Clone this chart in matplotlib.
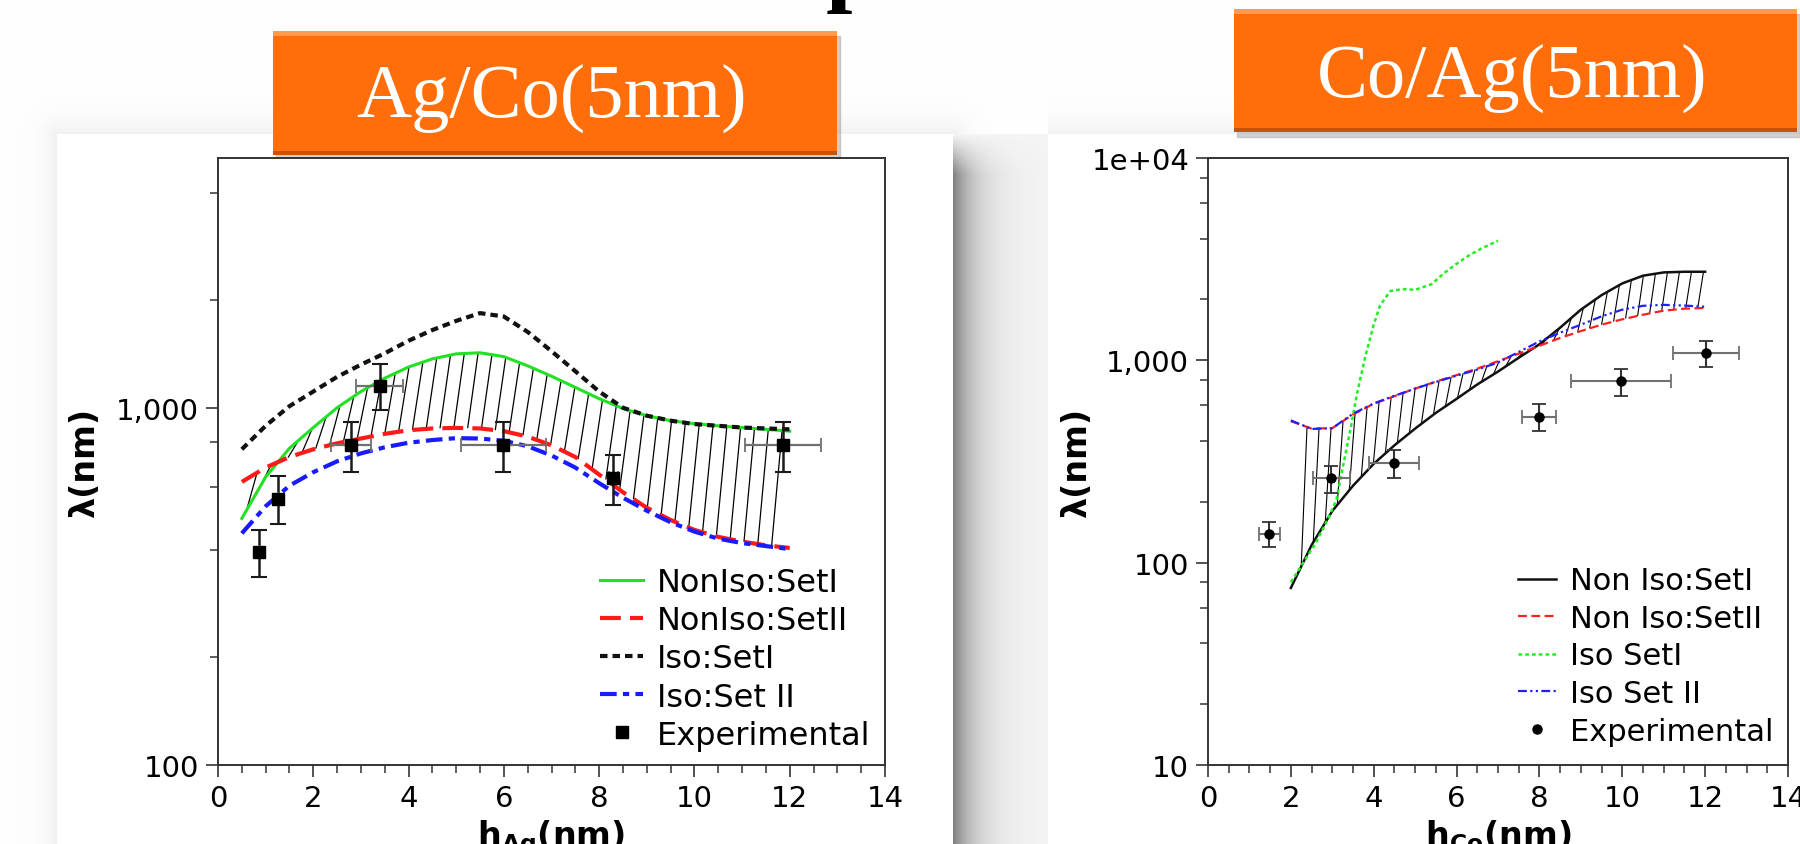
import numpy as np
import matplotlib
matplotlib.use("Agg")
import matplotlib.pyplot as plt
from matplotlib.patches import Rectangle
from matplotlib.collections import LineCollection
from matplotlib.ticker import NullFormatter, FixedLocator, MultipleLocator

plt.rcParams['font.family'] = ['DejaVu Sans']

# ---------- Ag/Co(5nm) panel ----------
h_ag = [0.5, 1.0, 1.5, 2.0, 2.5, 3.0, 3.5, 4.0, 4.5, 5.0, 5.5, 6.0,
        6.5, 7.0, 7.5, 8.0, 8.5, 9.0, 9.5, 10.0, 10.5, 11.0, 11.5, 12.0]
ag_noniso_set1 = [490, 640, 770, 880, 1000, 1110, 1210, 1300, 1370, 1415, 1425, 1390,
                  1310, 1225, 1140, 1060, 995, 950, 920, 902, 890, 880, 870, 860]
ag_noniso_set2 = [620, 680, 728, 765, 795, 820, 845, 865, 875, 878, 875, 860,
                  830, 785, 728, 650, 580, 525, 485, 455, 435, 422, 412, 405]
ag_iso_set1 = [765, 890, 1010, 1110, 1220, 1320, 1420, 1540, 1650, 1750, 1840, 1800,
               1630, 1440, 1265, 1110, 1000, 950, 920, 900, 890, 880, 875, 870]
ag_iso_set2 = [445, 530, 605, 660, 708, 745, 775, 798, 812, 822, 820, 808,
               780, 735, 680, 615, 560, 515, 478, 450, 430, 418, 410, 402]

ag_exp_x = [0.86, 1.26, 2.80, 3.39, 5.99, 8.30, 11.86]
ag_exp_y = [395, 557, 787, 1153, 787, 635, 787]
ag_exp_yerr = [60, 85, 125, 170, 125, 100, 125]
ag_exp_xerr = [0, 0, 0.42, 0.5, 0.9, 0.1, 0.8]

# ---------- Co/Ag(5nm) panel ----------
h_co = [2.0, 2.5, 3.0, 3.5, 4.0, 4.5, 5.0, 5.5, 6.0, 6.5, 7.0,
        7.5, 8.0, 8.5, 9.0, 9.5, 10.0, 10.5, 11.0, 11.5, 12.0]
co_noniso_set1 = [75, 122, 180, 240, 308, 380, 460, 550, 645, 760, 880,
                  1030, 1200, 1450, 1780, 2100, 2400, 2620, 2720, 2740, 2740]
co_noniso_set2 = [500, 460, 462, 540, 610, 665, 725, 785, 845, 910, 990,
                  1080, 1180, 1290, 1395, 1500, 1595, 1680, 1760, 1800, 1815]
co_iso_set2 = [505, 458, 462, 545, 612, 668, 725, 782, 840, 900, 975,
               1100, 1240, 1370, 1500, 1650, 1780, 1860, 1880, 1865, 1840]
h_co_iso1 = [2.0, 2.3, 2.6, 2.9, 3.1, 3.3, 3.45, 3.6, 3.8, 4.0, 4.15, 4.4,
             4.7, 5.0, 5.4, 5.7, 6.0, 6.3, 6.6, 7.0]
co_iso_set1 = [80, 100, 125, 165, 205, 330, 470, 690, 1050, 1500, 1860, 2200,
               2250, 2230, 2380, 2700, 3000, 3300, 3570, 3900]

co_exp_x = [1.48, 2.98, 4.49, 7.99, 9.97, 12.02]
co_exp_y = [139, 262, 311, 526, 787, 1084]
co_exp_yerr = [20, 40, 50, 80, 120, 160]
co_exp_xerr = [0.25, 0.45, 0.6, 0.4, 1.2, 0.8]

W, H = 1800, 845
fig = plt.figure(figsize=(W / 100, H / 100), dpi=100)

# slide background with panel shadows
bg = fig.add_axes([0, 0, 1, 1])
yy, xx = np.mgrid[0:H, 0:W]
ddx = np.maximum(np.maximum(57 - xx, xx - 953), 0)
ddy = np.maximum(135 - yy, 0)
d = np.hypot(ddx, ddy)
shade = np.where(d > 0, 0.06 * np.exp(-d / 14), 0.0)
side = (xx >= 953) & (xx < 1048) & (yy >= 135)
shade = np.where(side, 0.46 * np.exp(-(xx - 953) / 22.0) * np.clip((yy - 135) / 40.0, 0, 1) + 0.04, shade)
right_panel = (xx >= 1048) & (yy >= 135)
shade = np.where(right_panel, 0.0, shade)
top_glow = (xx >= 1048) & (yy < 135)
shade = np.where(top_glow, 0.05 * np.exp(-(135 - yy) / 14.0), shade)
gray = 1 - shade
bg.imshow(np.dstack([gray, gray, gray]), extent=(0, W, H, 0), aspect='auto', zorder=0)
bg.set_xlim(0, W)
bg.set_ylim(H, 0)
bg.axis('off')


def orange_box(x0, x1, y0, y1, text, baseline):
    bg.add_patch(Rectangle((x0 + 3, y0 + 5), x1 - x0, y1 - y0, color='#9a9a9a', alpha=0.45, zorder=2))
    bg.add_patch(Rectangle((x0, y0), x1 - x0, y1 - y0, facecolor='#FF6E0A', edgecolor='none', zorder=3))
    bg.add_patch(Rectangle((x0, y0), x1 - x0, 5, facecolor='#FF9A4E', edgecolor='none', zorder=4))
    bg.add_patch(Rectangle((x0, y1 - 4), x1 - x0, 4, facecolor='#C85306', edgecolor='none', zorder=4))
    bg.text((x0 + x1) / 2 - 3, baseline, text, color='white', fontsize=55,
            family='Liberation Serif', ha='center', va='baseline', zorder=5)


orange_box(273, 837, 32, 156, 'Ag/Co(5nm)', 117)
orange_box(1234, 1797, 10, 133, 'Co/Ag(5nm)', 97)
bg.text(826, -6, 'p', fontsize=68, family='Liberation Serif', fontweight='bold',
        ha='left', va='baseline', color='black', zorder=5)


def style_axes(ax, ylim, yticks, ylabels, yminor):
    ax.set_yscale('log')
    ax.set_xlim(0, 14)
    ax.set_ylim(*ylim)
    ax.set_xticks(range(0, 15, 2))
    ax.xaxis.set_minor_locator(MultipleLocator(0.5))
    ax.yaxis.set_major_locator(FixedLocator(yticks))
    ax.set_yticklabels(ylabels)
    ax.yaxis.set_minor_locator(FixedLocator(yminor))
    ax.yaxis.set_minor_formatter(NullFormatter())
    ax.tick_params(which='major', direction='out', length=8.5, width=1.2, labelsize=21,
                   color='#333333', pad=5, top=False, right=False)
    ax.tick_params(which='minor', direction='out', length=5.5, width=1.1,
                   color='#333333', top=False, right=False)
    for sp in ax.spines.values():
        sp.set_color('#333333')
        sp.set_linewidth(1.4)


def hatch(ax, x, a, b, x0, x1, step, lean, lw):
    la, lb = np.log10(a), np.log10(b)
    segs = []
    for xv in np.arange(x0, x1, step):
        lo = min(np.interp(xv, x, la), np.interp(xv, x, lb))
        hi = max(np.interp(xv + lean, x, la), np.interp(xv + lean, x, lb))
        segs.append([(xv, 10 ** lo), (xv + lean, 10 ** hi)])
    ax.add_collection(LineCollection(segs, colors='black', linewidths=lw, zorder=1))


# ---- left axes ----
axl = fig.add_axes([218 / W, 1 - 766 / H, 667 / W, 607 / H])
style_axes(axl, (100, 5000), [100, 1000], ['100', '1,000'], [200, 400, 600, 800, 2000, 4000])
hatch(axl, h_ag, ag_noniso_set1, ag_noniso_set2, 0.6, 11.85, 0.29, 0.22, 0.9)
axl.plot(h_ag, ag_noniso_set1, color='#22E022', lw=2.2, label='NonIso:SetI', zorder=3)
axl.plot(h_ag, ag_noniso_set2, color='#FF1A1A', lw=3, dashes=(5, 2.2), label='NonIso:SetII', zorder=3)
axl.plot(h_ag, ag_iso_set1, color='#111111', lw=3, dashes=(1.8, 1.2), label='Iso:SetI', zorder=3)
axl.plot(h_ag, ag_iso_set2, color='#1A1AFF', lw=3, dashes=(4, 1.5, 1.5, 1.5), label='Iso:Set II', zorder=3)
axl.errorbar(ag_exp_x, ag_exp_y, yerr=ag_exp_yerr, fmt='none', ecolor='#1a1a1a',
             elinewidth=1.8, capsize=6, capthick=1.5, zorder=4)
axl.errorbar(ag_exp_x, ag_exp_y, xerr=ag_exp_xerr, fmt='none', ecolor='#707070',
             elinewidth=1.6, capsize=5, capthick=1.3, zorder=4)
axl.plot(ag_exp_x, ag_exp_y, 's', color='black', ms=8, label='Experimental', zorder=5)
axl.legend(loc='center left', bbox_to_anchor=(600 / W, 1 - 660 / H), bbox_transform=fig.transFigure,
           frameon=False, fontsize=23, borderaxespad=0, borderpad=0, labelspacing=0.22,
           handlelength=1.35, handletextpad=0.44)
axl.set_ylabel('λ(nm)', fontsize=24, fontweight='bold')
axl.yaxis.set_label_coords((101 - 218) / 667, 0.5)
bg.text(551, 818, r'$\mathbf{h_{Ag}}$(nm)', fontsize=24, fontweight='bold', ha='center', va='top', zorder=6)

# ---- right axes ----
axr = fig.add_axes([1208 / W, 1 - 766 / H, 580 / W, 607 / H])
style_axes(axr, (10, 10000), [10, 100, 1000, 10000], ['10', '100', '1,000', '1e+04'],
           [20, 40, 60, 80, 200, 400, 600, 800, 2000, 4000, 6000, 8000])
hatch(axr, h_co, co_noniso_set1, co_noniso_set2, 2.25, 11.9, 0.29, 0.14, 0.8)
axr.plot(h_co, co_noniso_set1, color='#111111', lw=1.8, label='Non Iso:SetI', zorder=3)
axr.plot(h_co, co_noniso_set2, color='#FF2020', lw=1.6, dashes=(4, 2), label='Non Iso:SetII', zorder=3)
axr.plot(h_co_iso1, co_iso_set1, color='#22EE22', lw=1.8, dashes=(1.5, 1.2), label='Iso SetI', zorder=3)
axr.plot(h_co, co_iso_set2, color='#2020FF', lw=1.6, dashes=(4, 1.5, 1, 1.5, 1, 1.5), label='Iso Set II', zorder=3)
axr.errorbar(co_exp_x, co_exp_y, yerr=co_exp_yerr, fmt='none', ecolor='#333333',
             elinewidth=1.5, capsize=5, capthick=1.3, zorder=4)
axr.errorbar(co_exp_x, co_exp_y, xerr=co_exp_xerr, fmt='none', ecolor='#707070',
             elinewidth=1.5, capsize=5, capthick=1.3, zorder=4)
axr.plot(co_exp_x, co_exp_y, 'o', color='black', ms=6.5, label='Experimental', zorder=5)
axr.legend(loc='center left', bbox_to_anchor=(1518 / W, 1 - 657 / H), bbox_transform=fig.transFigure,
           frameon=False, fontsize=22, borderaxespad=0, borderpad=0, labelspacing=0.28,
           handlelength=1.25, handletextpad=0.44)
axr.set_ylabel('λ(nm)', fontsize=24, fontweight='bold')
axr.yaxis.set_label_coords((1093 - 1208) / 580, 0.5)
bg.text(1498, 818, r'$\mathbf{h_{Co}}$(nm)', fontsize=24, fontweight='bold', ha='center', va='top', zorder=6)

fig.savefig('out.png', dpi=100)
